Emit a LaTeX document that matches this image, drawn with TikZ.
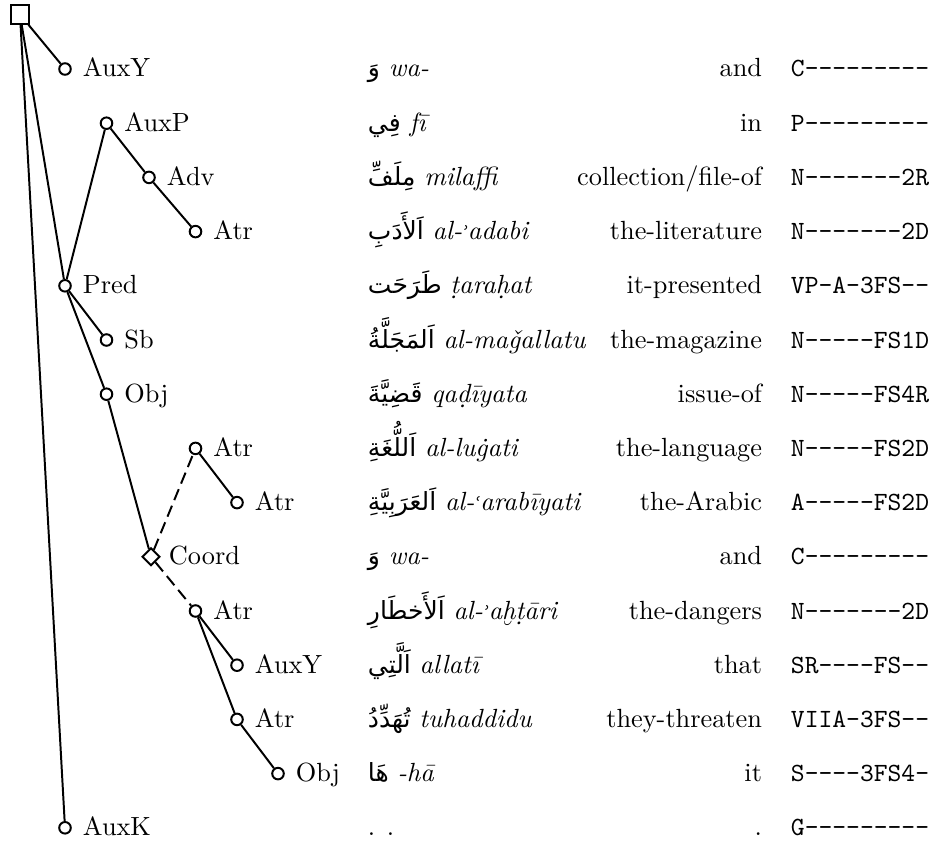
\documentclass[tikz,border=0pt]{standalone}
\usepackage{fontspec}
\TeXXeTstate=1
\newfontfamily\arabicfont[Script=Arabic]{DejaVu Sans}
\newfontfamily\djvserif{DejaVu Serif}
\usetikzlibrary{shapes.geometric}
\newcommand{\ain}{{\djvserif\fontsize{7}{8}\selectfont ʿ}}
\newcommand{\hmz}{{\djvserif\fontsize{7}{8}\selectfont ʾ}}
\newcommand{\arw}[1]{{\arabicfont\fontsize{9.5}{11}\selectfont\beginR #1\endR}}
\begin{document}
\begin{tikzpicture}[x=0.38023pt, y=-0.38023pt, line width=0.75pt,
  dep/.style={circle, draw, minimum size=4.4pt, inner sep=0pt},
  rootbox/.style={rectangle, draw, minimum size=6.9pt, inner sep=0pt},
  coordbox/.style={diamond, draw, minimum size=6.8pt, inner sep=0pt, aspect=1},
  lab/.style={anchor=base west, inner sep=0pt},
  word/.style={anchor=base west, inner sep=0pt},
  gloss/.style={anchor=base east, inner sep=0pt},
  tagtext/.style={anchor=base west, inner sep=0pt, font=\ttfamily},
  coordedge/.style={dash pattern=on 4.5pt off 2.3pt}]
\useasboundingbox (0,0) rectangle (935,842);

% tree nodes
\node[rootbox] (root) at (20,14.5) {};
\node[dep] (n1) at (65,69) {};
\node[dep] (n2) at (106.5,123.2) {};
\node[dep] (n3) at (149,177.4) {};
\node[dep] (n4) at (195.5,231.6) {};
\node[dep] (n5) at (65,285.8) {};
\node[dep] (n6) at (106.5,340) {};
\node[dep] (n7) at (106.5,394.2) {};
\node[dep] (n8) at (195.5,448.4) {};
\node[dep] (n9) at (237,502.6) {};
\node[coordbox] (n10) at (151,556.8) {};
\node[dep] (n11) at (195.5,611) {};
\node[dep] (n12) at (237,665.2) {};
\node[dep] (n13) at (237,719.4) {};
\node[dep] (n14) at (278,773.6) {};
\node[dep] (n15) at (65,827.8) {};

% edges
\draw (root) -- (n1);
\draw (root) -- (n5);
\draw (root) -- (n15);
\draw (n5) -- (n2);
\draw (n2) -- (n3);
\draw (n3) -- (n4);
\draw (n5) -- (n6);
\draw (n5) -- (n7);
\draw (n7) -- (n10);
\draw[coordedge] (n10) -- (n8);
\draw (n8) -- (n9);
\draw[coordedge] (n10) -- (n11);
\draw (n11) -- (n12);
\draw (n11) -- (n13);
\draw (n13) -- (n14);

% functor labels
\node[lab] (f1) at (82,77) {AuxY};
\node[lab] (f2) at (123.5,131.2) {AuxP};
\node[lab] (f3) at (166,185.4) {Adv};
\node[lab] (f4) at (212.5,239.6) {Atr};
\node[lab] (f5) at (82,293.8) {Pred};
\node[lab] (f6) at (123.5,348) {Sb};
\node[lab] (f7) at (123.5,402.2) {Obj};
\node[lab] (f8) at (212.5,456.4) {Atr};
\node[lab] (f9) at (254,510.6) {Atr};
\node[lab] (f10) at (168,564.8) {Coord};
\node[lab] (f11) at (212.5,619) {Atr};
\node[lab] (f12) at (254,673.2) {AuxY};
\node[lab] (f13) at (254,727.4) {Atr};
\node[lab] (f14) at (295,781.6) {Obj};
\node[lab] (f15) at (82,835.8) {AuxK};

% Arabic words with transliteration
\node[word] (w1) at (367,77) {\arw{وَ} \textit{wa-}};
\node[word] (w2) at (367,131.2) {\arw{فِي} \textit{fī}};
\node[word] (w3) at (367,185.4) {\arw{مِلَفِّ} \textit{milaffi}};
\node[word] (w4) at (367,239.6) {\arw{اَلأَدَبِ} \textit{al-\hmz adabi}};
\node[word] (w5) at (367,293.8) {\arw{طَرَحَت} \textit{ṭaraḥat}};
\node[word] (w6) at (367,348) {\arw{اَلمَجَلَّةُ} \textit{al-maǧallatu}};
\node[word] (w7) at (367,402.2) {\arw{قَضِيَّةَ} \textit{qaḍīyata}};
\node[word] (w8) at (367,456.4) {\arw{اَللُّغَةِ} \textit{al-luġati}};
\node[word] (w9) at (367,510.6) {\arw{اَلعَرَبِيَّةِ} \textit{al-\ain arabīyati}};
\node[word] (w10) at (367,564.8) {\arw{وَ} \textit{wa-}};
\node[word] (w11) at (367,619) {\arw{اَلأَخطَارِ} \textit{al-\hmz aḫṭāri}};
\node[word] (w12) at (367,673.2) {\arw{اَلَّتِي} \textit{allatī}};
\node[word] (w13) at (367,727.4) {\arw{تُهَدِّدُ} \textit{tuhaddidu}};
\node[word] (w14) at (367,781.6) {\arw{هَا} \textit{-hā}};
\node[word] (w15) at (367,835.8) {. .};

% glosses
\node[gloss] (g1) at (763,77) {and};
\node[gloss] (g2) at (763,131.2) {in};
\node[gloss] (g3) at (763,185.4) {collection/file-of};
\node[gloss] (g4) at (763,239.6) {the-literature};
\node[gloss] (g5) at (763,293.8) {it-presented};
\node[gloss] (g6) at (763,348) {the-magazine};
\node[gloss] (g7) at (763,402.2) {issue-of};
\node[gloss] (g8) at (763,456.4) {the-language};
\node[gloss] (g9) at (763,510.6) {the-Arabic};
\node[gloss] (g10) at (763,564.8) {and};
\node[gloss] (g11) at (763,619) {the-dangers};
\node[gloss] (g12) at (763,673.2) {that};
\node[gloss] (g13) at (763,727.4) {they-threaten};
\node[gloss] (g14) at (763,781.6) {it};
\node[gloss] (g15) at (763,835.8) {.};

% tags
\node[tagtext] (t1) at (790,77) {C---------};
\node[tagtext] (t2) at (790,131.2) {P---------};
\node[tagtext] (t3) at (790,185.4) {N-------2R};
\node[tagtext] (t4) at (790,239.6) {N-------2D};
\node[tagtext] (t5) at (790,293.8) {VP-A-3FS--};
\node[tagtext] (t6) at (790,348) {N-----FS1D};
\node[tagtext] (t7) at (790,402.2) {N-----FS4R};
\node[tagtext] (t8) at (790,456.4) {N-----FS2D};
\node[tagtext] (t9) at (790,510.6) {A-----FS2D};
\node[tagtext] (t10) at (790,564.8) {C---------};
\node[tagtext] (t11) at (790,619) {N-------2D};
\node[tagtext] (t12) at (790,673.2) {SR----FS--};
\node[tagtext] (t13) at (790,727.4) {VIIA-3FS--};
\node[tagtext] (t14) at (790,781.6) {S----3FS4-};
\node[tagtext] (t15) at (790,835.8) {G---------};
\end{tikzpicture}
\end{document}
